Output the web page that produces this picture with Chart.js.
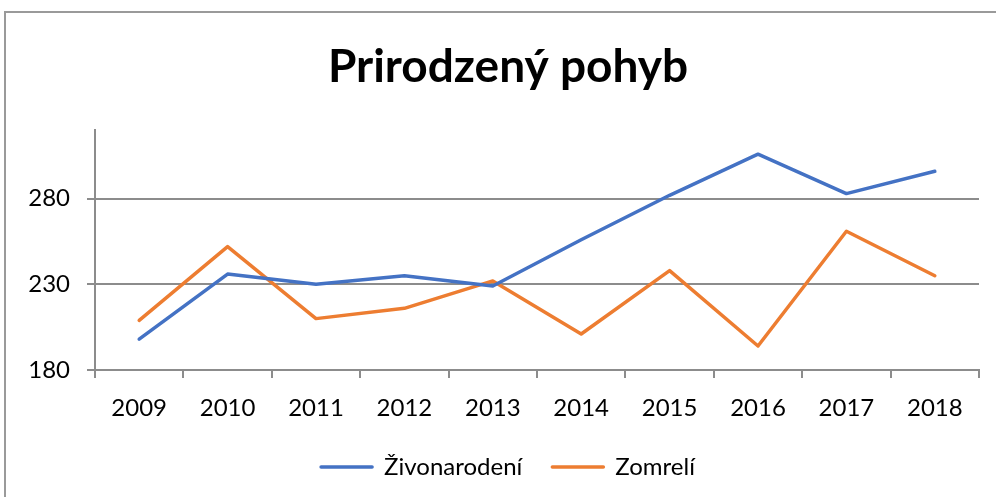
<!DOCTYPE html>
<html>
<head>
<meta charset="utf-8">
<script src="https://cdn.jsdelivr.net/npm/chart.js@4"></script>
<style>
  html, body { margin: 0; padding: 0; background: #fff; overflow: hidden; }
  #wrap { width: 996px; height: 497px; }
</style>
</head>
<body>
<div id="wrap"><canvas id="chartCanvas" width="996" height="497"></canvas></div>
<script>
// Data grafu
const years = ['2009', '2010', '2011', '2012', '2013', '2014', '2015', '2016', '2017', '2018'];
const zivonarodeni = [198, 236, 230, 235, 229, 256, 282, 306, 283, 296];
const zomreli = [209, 252, 210, 216, 232, 201, 238, 194, 261, 235];
const yTicks = [180, 230, 280];

const gridGray = '#8c8c8c';
const fontFamily = "Lato, 'Open Sans', sans-serif";

// Ramik okolo celeho grafu (ako v Exceli)
const frame = {
  id: 'frame',
  beforeDraw(chart) {
    const ctx = chart.ctx;
    ctx.save();
    ctx.fillStyle = '#fff';
    ctx.fillRect(0, 0, chart.width, chart.height);
    ctx.strokeStyle = '#9a9a9a';
    ctx.lineWidth = 2;
    ctx.strokeRect(5, 12, chart.width + 20, chart.height + 20);
    ctx.restore();
  }
};

new Chart(document.getElementById('chartCanvas'), {
  type: 'line',
  data: {
    labels: years,
    datasets: [
      { label: 'Živonarodení', data: zivonarodeni, borderColor: '#4472C4', backgroundColor: '#4472C4', borderWidth: 3.5, pointRadius: 0, tension: 0, borderCapStyle: 'round', borderJoinStyle: 'round' },
      { label: 'Zomrelí', data: zomreli, borderColor: '#ED7D31', backgroundColor: '#ED7D31', borderWidth: 3.5, pointRadius: 0, tension: 0, borderCapStyle: 'round', borderJoinStyle: 'round' }
    ]
  },
  options: {
    responsive: false,
    animation: false,
    // titulok je v Exceli trochu vpravo, preto 20px vlavo
    layout: { padding: { left: 20, right: 0, top: 0, bottom: 8 } },
    plugins: {
      title: {
        display: true,
        text: 'Prirodzený pohyb',
        color: '#000',
        font: { family: fontFamily, size: 46, weight: 'bold' },
        padding: { top: 40, bottom: 35 }
      },
      legend: {
        position: 'bottom',
        labels: {
          color: '#000',
          font: { family: fontFamily, size: 24 },
          boxWidth: 51,
          boxHeight: 0,
          padding: 30
        }
      },
      tooltip: { enabled: false }
    },
    scales: {
      x: {
        offset: true,
        grid: { offset: true, drawOnChartArea: false, drawTicks: true, tickLength: 8, color: gridGray, lineWidth: 2 },
        border: { display: true, color: gridGray, width: 2 },
        ticks: { color: '#000', font: { family: fontFamily, size: 24 }, padding: 16, maxRotation: 0 },
        afterFit: scale => { scale.height = 55; }
      },
      y: {
        min: 180,
        max: 320,
        grid: { color: gridGray, lineWidth: 2, drawTicks: true, tickLength: 8 },
        border: { display: true, color: gridGray, width: 2 },
        ticks: { stepSize: 50, color: '#000', font: { family: fontFamily, size: 24 }, padding: 17 },
        afterBuildTicks: scale => { scale.ticks = yTicks.map(v => ({ value: v })); },
        afterFit: scale => { scale.width = 75; }
      },
      // prazdna os vpravo len kvoli okraju
      yRight: {
        position: 'right',
        min: 180,
        max: 320,
        grid: { display: false },
        border: { display: false },
        ticks: { display: false },
        afterFit: scale => { scale.width = 17; }
      }
    }
  },
  plugins: [frame]
});
</script>
</body>
</html>
